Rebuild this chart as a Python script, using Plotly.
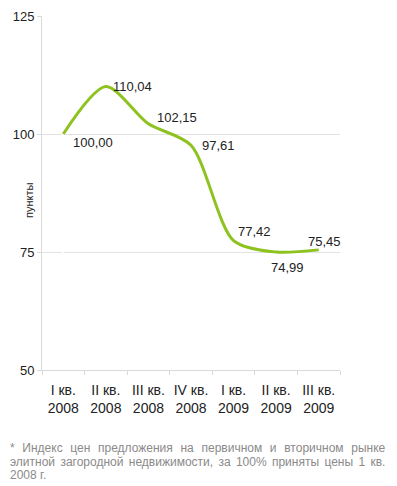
import plotly.graph_objects as go

categories = ["I кв.<br>2008", "II кв.<br>2008", "III кв.<br>2008", "IV кв.<br>2008",
              "I кв.<br>2009", "II кв.<br>2009", "III кв.<br>2009"]
values = [100.00, 110.04, 102.15, 97.61, 77.42, 74.99, 75.45]
labels = ["100,00", "110,04", "102,15", "97,61", "77,42", "74,99", "75,45"]

footnote = [
    "* Индекс цен предложения на первичном и вторичном рынке",
    "элитной загородной недвижимости, за 100% приняты цены 1 кв.",
    "2008 г.",
]

FONT = "Liberation Sans, Arial, Helvetica, sans-serif"
x = list(range(len(categories)))

# page body has an 8px margin, so the figure is sized to fit the 397x486 window
W, H = 389, 478
L, R, T, B = 34, 57, 8, 116
PW, PH = W - L - R, H - T - B

fig = go.Figure()
fig.add_trace(go.Scatter(
    x=x, y=values, mode="lines",
    line=dict(color="#8dc21f", width=3, shape="spline", smoothing=0.8),
    hoverinfo="skip",
))

# label offsets (px) relative to each data point
offsets = [(8, -8, "left"), (5, 0, "left"), (7, 6, "left"), (9, 0, "left"),
           (2, 9, "left"), (11, -15, "center"), (6, 8, "center")]
for xi, v, lab, (dx, dy, anc) in zip(x, values, labels, offsets):
    fig.add_annotation(x=xi, y=v, text=lab, showarrow=False, xanchor=anc, yanchor="middle",
                       xshift=dx, yshift=dy, font=dict(family=FONT, size=13, color="#222"))

fig.update_layout(
    width=W, height=H,
    margin=dict(l=L, r=R, t=T, b=B),
    plot_bgcolor="white", paper_bgcolor="white",
    showlegend=False,
    font=dict(family=FONT, size=13, color="#222"),
)
fig.update_xaxes(
    range=[-0.5, 6.5], automargin=False,
    tickmode="array", tickvals=x, ticktext=categories,
    showgrid=False, showline=True, linecolor="#d9d9d9", linewidth=1,
    ticks="", tickfont=dict(size=14), ticklabelstandoff=7,
    minor=dict(tickmode="array", tickvals=[i + 0.5 for i in range(-1, 7)],
               ticks="outside", ticklen=4, tickcolor="#d9d9d9"),
)
fig.update_yaxes(
    range=[50, 125], dtick=25, showgrid=True, gridcolor="#e3e3e3", automargin=False,
    showline=True, linecolor="#d9d9d9", linewidth=1,
    ticks="outside", ticklen=4, tickcolor="#d9d9d9", zeroline=False,
    tickfont=dict(size=13),
)

# y-axis title
fig.add_annotation(text="пункты", xref="paper", yref="paper", x=-21 / PW, y=(362 - 192) / PH,
                   textangle=-90, showarrow=False, font=dict(family=FONT, size=11, color="#222"))

# justified-looking footnote
sp1 = " \u00a0\u200a"
sp2 = " \u2006"
lines_out = [footnote[0].replace(" ", sp1), footnote[1].replace(" ", sp2), footnote[2]]
for i, line in enumerate(lines_out):
    fig.add_annotation(
        text=line, xref="paper", yref="paper", x=-L / PW,
        y=-(440 - 362) / PH - i * 13.5 / PH,
        xanchor="left", yanchor="middle", showarrow=False,
        font=dict(family=FONT, size=12, color="#8a8a8a"),
    )

fig.write_html("out.html")
